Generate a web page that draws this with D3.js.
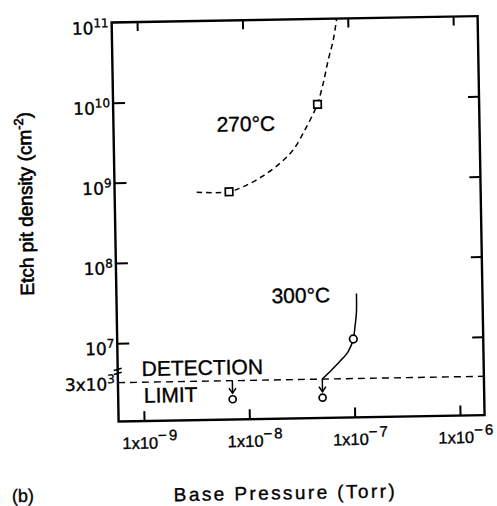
<!DOCTYPE html>
<html>
<head>
<meta charset="utf-8">
<script src="https://cdn.jsdelivr.net/npm/d3@7"></script>
<style>
  html, body { margin: 0; padding: 0; background: #fff; }
  svg { display: block; }
  text { font-family: "Liberation Sans", Arial, sans-serif; fill: #000; }
</style>
</head>
<body>
<div id="chart"></div>
<script>
// ---- data ----
const xTickVals = [1e-9, 1e-8, 1e-7, 1e-6];
const xTickExps = ["\u22129", "\u22128", "\u22127", "\u22126"];
const yTickVals = [1e11, 1e10, 1e9, 1e8, 1e7];
const yTickExps = ["11", "10", "9", "8", "7"];
const detectionLimit = 3e3;
const detectionLabel = ["3x10", "3"];

// 270 °C measured points (squares)
const sq270X = [7e-9, 5e-8];
const sq270Y = [7.3e8, 8.6e9];
// 270 °C guide curve (dashed)
const curve270X = [3.45e-9, 7.0e-9, 9.6e-9, 1.44e-8, 2.15e-8, 2.89e-8, 3.76e-8, 4.72e-8, 5.0e-8, 5.71e-8, 6.43e-8, 7.23e-8, 7.85e-8];
const curve270Y = [7.3e8, 7.3e8, 8.4e8, 1.11e9, 1.61e9, 2.36e9, 4.15e9, 7.3e9, 8.6e9, 1.57e10, 3.06e10, 5.42e10, 1e11];

// 300 °C measured point (circle)
const c300X = [1e-7];
const c300Y = [1e7];
// 300 °C guide curve (solid)
const curve300X = [1.09e-7, 1.08e-7, 1.04e-7, 1.0e-7, 8.9e-8, 7.4e-8, 6.15e-8, 5.0e-8];
const curve300Y = [3.7e7, 2.1e7, 1.4e7, 1.0e7, 7.0e6, 5.3e6, 5.6e5, 3e3];

// points below detection limit (circles with arrows)
const belowX = [7e-9, 5e-8];
const belowY = [1e3, 1e3];

const labels = { t270: "270°C", t300: "300°C", det1: "DETECTION", det2: "LIMIT",
  xTitle: "Base Pressure (Torr)", yTitle: "Etch pit density (cm", yTitleSup: "-2", panel: "(b)" };

// ---- layout ----
const W = 497, H = 506;
const svg = d3.select("#chart").append("svg").attr("width", W).attr("height", H);
svg.append("rect").attr("width", W).attr("height", H).attr("fill", "#fff");
const g = svg.append("g").attr("transform", "rotate(-1, 298.1, 218.4)");

const x = d3.scaleLog().domain([5.74e-10, 1.71e-6]).range([115.1, 481.1]);
const yBreak = 4.6e6;
const y = d3.scaleLog().domain([1e11, yBreak, detectionLimit, 3e2]).range([19.3, 367, 379.5, 418.4]);

const x0 = x.range()[0], x1 = x.range()[1];
const yTop = y(1e11), yBot = y(3e2);

// frame
g.append("rect").attr("x", x0).attr("y", yTop).attr("width", x1 - x0).attr("height", yBot - yTop)
  .attr("fill", "none").attr("stroke", "#000").attr("stroke-width", 2.4);

// axes (ticks inward)
const axB = g.append("g").attr("transform", `translate(0,${yBot})`)
  .call(d3.axisBottom(x).tickValues(xTickVals).tickSize(-10).tickFormat(""));
const axT = g.append("g").attr("transform", `translate(0,${yTop})`)
  .call(d3.axisTop(x).tickValues(xTickVals).tickSize(-9).tickFormat(""));
const axL = g.append("g").attr("transform", `translate(${x0},0)`)
  .call(d3.axisLeft(y).tickValues(yTickVals.slice(1)).tickSize(-12).tickFormat(""));
const axR = g.append("g").attr("transform", `translate(${x1},0)`)
  .call(d3.axisRight(y).tickValues(yTickVals.slice(1)).tickSize(-11).tickFormat(""));
[axB, axT, axL, axR].forEach(a => {
  a.select(".domain").remove();
  a.selectAll(".tick line").attr("stroke", "#000").attr("stroke-width", 2);
});

const heavy = sel => sel.attr("stroke", "#000").attr("stroke-width", 0.35);

// x tick labels
xTickVals.forEach((v, i) => {
  const t = g.append("text").attr("x", x(v) - 22).attr("y", 446).attr("font-size", 16.5).call(heavy);
  t.append("tspan").text("1x10");
  t.append("tspan").attr("dy", -8).attr("font-size", 15).attr("letter-spacing", 2).text(xTickExps[i]);
});
// y tick labels
yTickVals.forEach((v, i) => {
  const t = g.append("text").attr("x", x0 - 3).attr("y", y(v) + 11.5).attr("font-size", 17)
    .style("font-family", "'DejaVu Sans', sans-serif").attr("text-anchor", "end").call(heavy);
  t.append("tspan").text("10");
  t.append("tspan").attr("dy", -7).attr("font-size", 12).text(yTickExps[i]);
});
{
  const t = g.append("text").attr("x", x0 - 3).attr("y", y(detectionLimit) + 7.5).attr("font-size", 17)
    .style("font-family", "'DejaVu Sans', sans-serif").attr("text-anchor", "end").call(heavy);
  t.append("tspan").text(detectionLabel[0]);
  t.append("tspan").attr("dy", -7).attr("font-size", 12).text(detectionLabel[1]);
}

// axis break marks on left axis
[366.2, 370.2].forEach(yy => {
  g.append("line").attr("x1", x0 - 4).attr("x2", x0 + 4).attr("y1", yy + 1).attr("y2", yy - 1)
    .attr("stroke", "#000").attr("stroke-width", 1.6);
});

// detection limit line
g.append("line").attr("x1", x0).attr("x2", x1).attr("y1", y(detectionLimit)).attr("y2", y(detectionLimit))
  .attr("stroke", "#000").attr("stroke-width", 1.4).attr("stroke-dasharray", "7,5");

// curves
const line = d3.line().x(d => x(d[0])).y(d => y(d[1])).curve(d3.curveCatmullRom.alpha(0.5));
g.append("path").datum(curve270X.map((v, i) => [v, curve270Y[i]]))
  .attr("d", line).attr("fill", "none").attr("stroke", "#000").attr("stroke-width", 1.5).attr("stroke-dasharray", "5.5,4");
g.append("path").datum(curve300X.map((v, i) => [v, curve300Y[i]]))
  .attr("d", line).attr("fill", "none").attr("stroke", "#000").attr("stroke-width", 1.5);

// squares 270
const sq = 7.5;
sq270X.forEach((v, i) => {
  g.append("rect").attr("x", x(v) - sq / 2).attr("y", y(sq270Y[i]) - sq / 2).attr("width", sq).attr("height", sq)
    .attr("fill", "#fff").attr("stroke", "#000").attr("stroke-width", 1.7);
});
// circle 300
c300X.forEach((v, i) => {
  g.append("circle").attr("cx", x(v)).attr("cy", y(c300Y[i])).attr("r", 3.8)
    .attr("fill", "#fff").attr("stroke", "#000").attr("stroke-width", 1.7);
});
// below-detection points with arrows
belowX.forEach((v, i) => {
  const cx = x(v), cy = y(belowY[i]), y0 = y(detectionLimit);
  g.append("line").attr("x1", cx).attr("x2", cx).attr("y1", y0).attr("y2", cy - 6)
    .attr("stroke", "#000").attr("stroke-width", 1.5);
  g.append("path").attr("d", `M${cx - 3.5},${cy - 11}L${cx},${cy - 6}L${cx + 3.5},${cy - 11}`)
    .attr("fill", "none").attr("stroke", "#000").attr("stroke-width", 1.5);
  g.append("circle").attr("cx", cx).attr("cy", cy).attr("r", 3.5)
    .attr("fill", "#fff").attr("stroke", "#000").attr("stroke-width", 1.7);
});

// annotations
g.append("text").attr("x", 218.2).attr("y", 130.3).attr("font-size", 21).call(heavy).text(labels.t270);
g.append("text").attr("x", 270.2).attr("y", 302.8).attr("font-size", 21).call(heavy).text(labels.t300);
g.append("text").attr("x", 139).attr("y", 373.3).attr("font-size", 21).call(heavy).text(labels.det1);
g.append("text").attr("x", 140.8).attr("y", 400).attr("font-size", 21).call(heavy).text(labels.det2);

// axis titles
g.append("text").attr("x", 280.6).attr("y", 499.1).attr("font-size", 19).attr("letter-spacing", 2.4)
  .attr("text-anchor", "middle").call(heavy).text(labels.xTitle);
{
  const t = g.append("text").attr("transform", "translate(32.6,199) rotate(-90)")
    .attr("font-size", 19).attr("text-anchor", "middle").attr("stroke", "#000").attr("stroke-width", 0.6);
  t.append("tspan").text(labels.yTitle);
  t.append("tspan").attr("dy", -8).attr("font-size", 13).text(labels.yTitleSup);
  t.append("tspan").attr("dy", 8).text(")");
}
g.append("text").attr("x", 7).attr("y", 497).attr("font-size", 18).call(heavy).text(labels.panel);
</script>
</body>
</html>
